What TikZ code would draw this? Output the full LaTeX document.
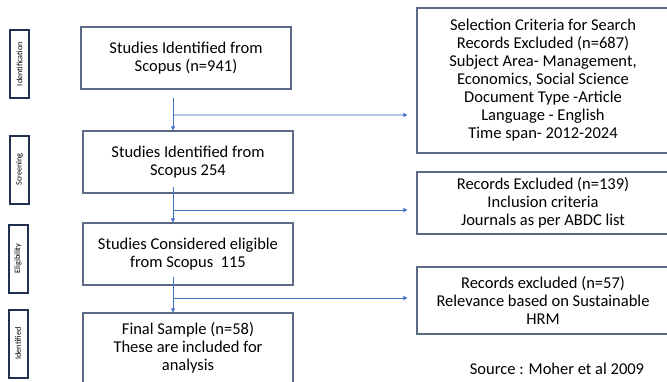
\documentclass[tikz,border=0pt]{standalone}
\usepackage{fontspec}
\setmainfont{Carlito}
\usetikzlibrary{arrows.meta}
\definecolor{boxline}{HTML}{5A6A84}
\definecolor{stageline}{HTML}{1F3050}
\definecolor{flow}{HTML}{4472C4}
\definecolor{flowlight}{HTML}{B4C7E7}
\tikzset{
  stepbox/.style={draw=boxline, line width=1.1pt, fill=white, align=center,
    inner sep=2pt, font=\fontsize{16.5}{18}\selectfont},
  stagebox/.style={draw=stageline, line width=2pt, fill=white,
    minimum width=19pt, minimum height=68pt, inner sep=0pt},
  stagetext/.style={rotate=90, font=\fontsize{8.2}{9}\selectfont},
  flowarrow/.style={draw=flow, line width=0.8pt,
    -{Triangle[length=4pt,width=4pt]}},
  branch/.style={draw=flow, line width=0.8pt,
    -{Triangle[length=4pt,width=4pt]}, shorten >=9pt},
  branchlight/.style={draw=flowlight, line width=2pt, shorten >=9pt,
    -{Triangle[length=4pt,width=4pt,color=flow]}},
}
\begin{document}
\begin{tikzpicture}[x=1pt,y=-1pt]
\clip (0,0) rectangle (667,381);
\fill[white] (0,0) rectangle (667,381);

% stage labels on the left
\node[stagebox] (s1) at (19.5,64) {};
\node[stagetext] at (s1) {Identification};
\node[stagebox] (s2) at (19.5,169.5) {};
\node[stagetext] at (s2) {Screening};
\node[stagebox] (s3) at (18,258.5) {};
\node[stagetext] at (s3) {Eligibility};
\node[stagebox] (s4) at (18,343.5) {};
\node[stagetext] at (s4) {Identified};

% main flow boxes
\node[stepbox, minimum width=210pt, minimum height=62pt] (b1) at (186,58)
  {Studies Identified from\\Scopus (n=941)};
\node[stepbox, minimum width=210pt, minimum height=62pt] (b2) at (188,162)
  {Studies Identified from\\Scopus 254};
\node[stepbox, minimum width=210pt, minimum height=62pt] (b3) at (188,254)
  {Studies Considered eligible\\from Scopus\ \ 115};
\node[stepbox, minimum width=210pt, minimum height=70pt] (b4) at (188,348)
  {Final Sample (n=58)\\These are included for\\analysis};

% exclusion boxes on the right
\node[stepbox, minimum width=252pt, minimum height=145pt] (r1) at (543,80.5)
  {Selection Criteria for Search\\Records Excluded (n=687)\\Subject Area- Management,\\Economics, Social Science\\Document Type -Article\\Language - English\\Time span- 2012-2024};
\node[stepbox, minimum width=252pt, minimum height=62pt] (r2) at (543,203)
  {Records Excluded (n=139)\\Inclusion criteria\\Journals as per ABDC list};
\node[stepbox, minimum width=252pt, minimum height=67pt] (r3) at (543,300.5)
  {Records excluded (n=57)\\Relevance based on Sustainable\\HRM};

\node[font=\fontsize{16.5}{18}\selectfont] (src) at (557,369) {Source : Moher et al 2009};

% connectors
\coordinate (a1) at (173,98);
\coordinate (j1) at (173,115);
\coordinate (a2) at (173,187);
\coordinate (j2) at (173,210);
\coordinate (a3) at (173,277);
\coordinate (j3) at (173,298);

\draw[branchlight] (j1) -- (j1 -| r1.west);
\draw[flowarrow] (a1) -- (a1 |- b2.north);
\draw[flowarrow] (a2) -- (a2 |- b3.north);
\draw[branch] (j2) -- (j2 -| r2.west);
\draw[flowarrow] (a3) -- (a3 |- b4.north);
\draw[branch] (j3) -- (j3 -| r3.west);
\end{tikzpicture}
\end{document}
